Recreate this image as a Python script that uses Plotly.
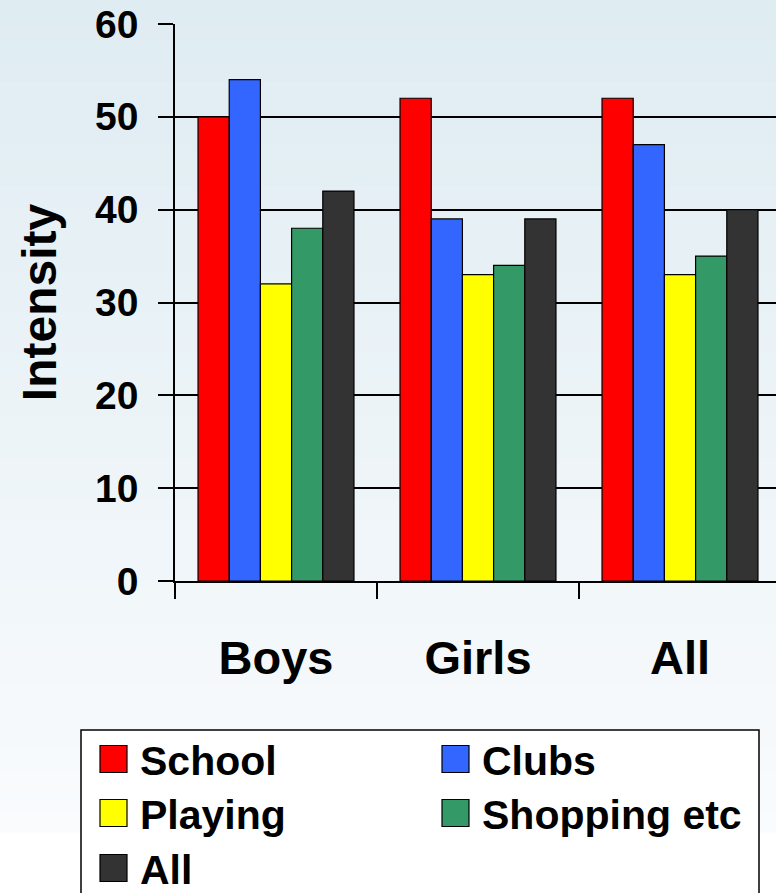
import plotly.graph_objects as go

# ---- data -------------------------------------------------------------
groups = ["Boys", "Girls", "All"]
series_names = ["School", "Clubs", "Playing", "Shopping etc", "All"]
school = [50, 52, 52]
clubs = [54, 39, 47]
playing = [32, 33, 33]
shopping = [38, 34, 35]
all_places = [42, 39, 40]
series_values = [school, clubs, playing, shopping, all_places]
series_colors = ["#FF0000", "#3366FF", "#FFFF00", "#339966", "#333333"]
y_ticks = [0, 10, 20, 30, 40, 50, 60]

# ---- geometry (pixels) ------------------------------------------------
W, H = 776, 893
ML, MR, MT, MB = 175, 0, 24, 312
PW, PH = W - ML - MR, H - MT - MB
FONT = "Liberation Sans, Arial, sans-serif"


def px_x(x):
    return (x - ML) / PW


def px_y(y):
    return (H - MB - y) / PH


fig = go.Figure()
for name, vals, col in zip(series_names, series_values, series_colors):
    fig.add_trace(go.Bar(
        x=groups, y=vals, name=name,
        marker=dict(color=col, line=dict(color="#000000", width=1.2)),
        showlegend=False,
    ))

shapes = []
# soft vertical background gradient, light blue at the top fading to white
top = (223, 236, 242)
bot = (249, 251, 253)
bands = 40
grad_end = 832
for i in range(bands):
    t = i / (bands - 1)
    c = tuple(round(top[k] + (bot[k] - top[k]) * t) for k in range(3))
    y0 = grad_end * i / bands
    y1 = grad_end * (i + 1) / bands + 0.5
    shapes.append(dict(
        type="rect", xref="paper", yref="paper", layer="below",
        x0=px_x(0), x1=px_x(W), y0=px_y(y1), y1=px_y(y0),
        fillcolor="rgb(%d,%d,%d)" % c, line=dict(width=0),
    ))

# legend box
LX0, LY0, LX1, LY1 = 81, 730, 759, 900
shapes.append(dict(
    type="rect", xref="paper", yref="paper", layer="above",
    x0=px_x(LX0), x1=px_x(LX1), y0=px_y(LY1), y1=px_y(LY0),
    fillcolor="#FFFFFF", line=dict(color="#000000", width=1.5),
))

annotations = []
col_x = [100, 442]
row_y = [759, 813, 868]
SW = 27
for i, (name, col) in enumerate(zip(series_names, series_colors)):
    cx = col_x[i % 2]
    cy = row_y[i // 2]
    shapes.append(dict(
        type="rect", xref="paper", yref="paper", layer="above",
        x0=px_x(cx), x1=px_x(cx + SW), y0=px_y(cy + SW / 2), y1=px_y(cy - SW / 2),
        fillcolor=col, line=dict(color="#000000", width=1.2),
    ))
    annotations.append(dict(
        x=px_x(cx + SW + 11), y=px_y(cy + 2), xref="paper", yref="paper",
        text=name, showarrow=False, xanchor="left", yanchor="middle",
        font=dict(family=FONT, size=41, color="#000000", weight="bold"),
    ))

fig.update_layout(
    width=W, height=H,
    margin=dict(l=ML, r=MR, t=MT, b=MB, pad=0),
    paper_bgcolor="#FFFFFF",
    plot_bgcolor="rgba(0,0,0,0)",
    barmode="group", bargap=0.228, bargroupgap=0,
    shapes=shapes, annotations=annotations,
    font=dict(family=FONT, color="#000000"),
    xaxis=dict(
        range=[-0.5, -0.5 + PW / 202], showline=True, linecolor="#000000", linewidth=1.5,
        ticks="outside", tickson="boundaries", ticklen=16, tickwidth=1.5, tickcolor="#000000",
        showgrid=False, ticklabelstandoff=35,
        tickfont=dict(family=FONT, size=47, color="#000000", weight="bold"),
        automargin=False,
    ),
    yaxis=dict(
        range=[0, 60], tickvals=y_ticks, showline=True, linecolor="#000000", linewidth=1.5,
        ticks="outside", ticklen=15, tickwidth=1.5, tickcolor="#000000",
        showgrid=True, gridcolor="#000000", gridwidth=1.5, zeroline=False,
        ticklabelstandoff=12,
        tickfont=dict(family=FONT, size=39, color="#000000", weight="bold"),
        title=dict(text="Intensity", standoff=23,
                   font=dict(family=FONT, size=48, color="#000000", weight="bold")),
        automargin=False,
    ),
)

fig.write_html("out.html")
